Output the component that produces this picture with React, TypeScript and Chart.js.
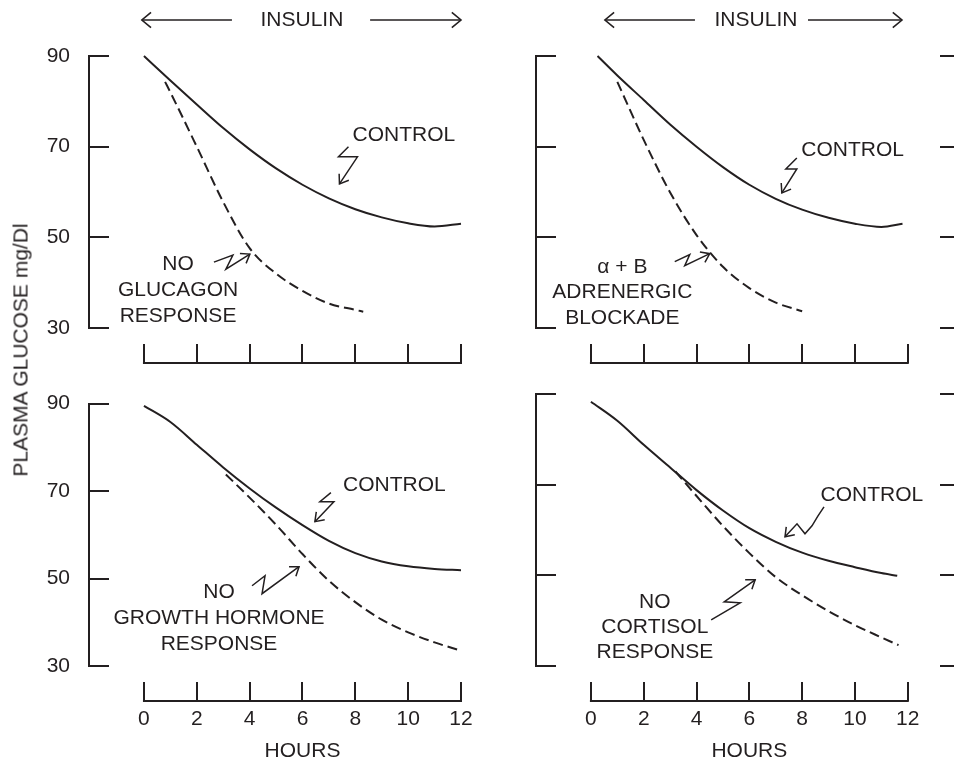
import React, { useEffect, useRef } from 'react';
import { Chart, registerables } from 'chart.js';

Chart.register(...registerables);

const FONT_FAMILY = '"Liberation Sans", Arial, Helvetica, sans-serif';
const FONT_SIZE = 21;
const INK = '#231f20';

// ---- axis ticks ----
const HOUR_TICKS = [0, 2, 4, 6, 8, 10, 12];
const GLUCOSE_TICKS = [30, 50, 70, 90];

// ---- texts ----
const Y_TITLE = 'PLASMA GLUCOSE mg/Dl';
const X_TITLE = 'HOURS';
const HEADER_TEXT = 'INSULIN';
const CONTROL_TEXT = 'CONTROL';

// ---- panel A: glucagon ----
const glucagonControlHours = [0, 1, 2, 3, 4, 5, 6, 7, 8, 9, 10, 11, 12];
const glucagonControlValues = [90, 84.6, 79.3, 74.1, 69.4, 65.2, 61.6, 58.6, 56.2, 54.4, 53.1, 52.4, 53.0];
const noGlucagonHours = [0.8, 1, 2, 3, 4, 5, 6, 7, 8, 8.3];
const noGlucagonValues = [84.3, 82.0, 70.0, 57.8, 47.6, 42.0, 38.2, 35.4, 34.0, 33.6];

// ---- panel B: adrenergic blockade ----
const adrenergicControlHours = [0.25, 1, 2, 3, 4, 5, 6, 7, 8, 9, 10, 11, 11.8];
const adrenergicControlValues = [90, 85.7, 80.3, 74.9, 70.0, 65.5, 61.6, 58.5, 56.1, 54.3, 53.0, 52.3, 53.0];
const blockadeHours = [1, 2, 3, 4, 5, 6, 7, 8];
const blockadeValues = [84.3, 71.5, 59.9, 50.5, 43.5, 38.8, 35.6, 33.7];

// ---- panel C: growth hormone ----
const growthControlHours = [0, 1, 2, 3, 4, 5, 6, 7, 8, 9, 10, 11, 12];
const growthControlValues = [89.5, 85.8, 80.6, 75.4, 70.6, 66.2, 62.2, 58.6, 55.8, 53.9, 52.8, 52.2, 51.9];
const noGrowthHours = [3.1, 4, 5, 6, 7, 8, 9, 10, 11, 12];
const noGrowthValues = [73.8, 68.5, 62.3, 55.6, 49.5, 44.6, 40.6, 37.7, 35.4, 33.5];

// ---- panel D: cortisol ----
const cortisolControlHours = [0, 1, 2, 3, 4, 5, 6, 7, 8, 9, 10, 11, 11.6];
const cortisolControlValues = [88.3, 84.1, 78.8, 73.8, 68.8, 64.3, 60.4, 57.4, 55.0, 53.2, 51.8, 50.5, 49.9];
const noCortisolHours = [3.2, 4, 5, 6, 7, 8, 9, 10, 11, 11.65];
const noCortisolValues = [72.9, 67.5, 60.9, 54.9, 49.6, 45.6, 42.1, 39.0, 36.3, 34.6];

type Pt = [number, number];
interface Note { t: number; v: number; lines: string[]; gap: number }
interface Bolt { t: number; v: number; path: Pt[] }
interface Header { left: [number, number]; center: number; right: [number, number] }
interface PanelDef {
  key: string;
  box: { left: number; top: number; width: number; height: number };
  area: { left: number; top: number; right: number; bottom: number };
  xMin: number;
  xMax: number;
  yLabels: boolean;
  xLabels: boolean;
  rightTicks: boolean;
  control: { hours: number[]; values: number[] };
  test: { hours: number[]; values: number[] };
  header?: Header;
  notes: Note[];
  bolts: Bolt[];
}

const PANELS: PanelDef[] = [
  {
    key: 'glucagon',
    box: { left: 0, top: 0, width: 477, height: 380 },
    area: { left: 89, top: 56, right: 461, bottom: 328 },
    xMin: -2.08, xMax: 12,
    yLabels: true, xLabels: false, rightTicks: false,
    control: { hours: glucagonControlHours, values: glucagonControlValues },
    test: { hours: noGlucagonHours, values: noGlucagonValues },
    header: { left: [-0.08, 3.33], center: 5.98, right: [8.56, 12.0] },
    notes: [
      { t: 9.84, v: 72.6, lines: [CONTROL_TEXT], gap: 26 },
      { t: 1.29, v: 44.1, lines: ['NO', 'GLUCAGON', 'RESPONSE'], gap: 26 },
    ],
    bolts: [
      { t: 7.4, v: 61.8, path: [[9, -37], [-1, -27], [18, -27]] },
      { t: 4.01, v: 46.3, path: [[-36, 8], [-17, 1], [-24, 15]] },
    ],
  },
  {
    key: 'adrenergic',
    box: { left: 477, top: 0, width: 477, height: 380 },
    area: { left: 59, top: 56, right: 463, bottom: 328 },
    xMin: -2.08, xMax: 13.22,
    yLabels: false, xLabels: false, rightTicks: true,
    control: { hours: adrenergicControlHours, values: adrenergicControlValues },
    test: { hours: blockadeHours, values: blockadeValues },
    header: { left: [0.53, 3.94], center: 6.25, right: [8.22, 11.78] },
    notes: [
      { t: 9.91, v: 69.3, lines: [CONTROL_TEXT], gap: 26 },
      { t: 1.19, v: 43.5, lines: ['\u03b1 + B', 'ADRENERGIC', 'BLOCKADE'], gap: 25.5 },
    ],
    bolts: [
      { t: 7.23, v: 59.8, path: [[15, -35], [4, -24], [15, -24]] },
      { t: 4.5, v: 46.4, path: [[-35, 8], [-20, 1], [-25, 12]] },
    ],
  },
  {
    key: 'growth',
    box: { left: 0, top: 380, width: 477, height: 381 },
    area: { left: 89, top: 14, right: 461, bottom: 286 },
    xMin: -2.08, xMax: 12,
    yLabels: true, xLabels: true, rightTicks: false,
    control: { hours: growthControlHours, values: growthControlValues },
    test: { hours: noGrowthHours, values: noGrowthValues },
    notes: [
      { t: 9.48, v: 71.25, lines: [CONTROL_TEXT], gap: 26 },
      { t: 2.84, v: 46.8, lines: ['NO', 'GROWTH HORMONE', 'RESPONSE'], gap: 26 },
    ],
    bolts: [
      { t: 6.47, v: 63.0, path: [[16, -29], [5, -20], [19, -20]] },
      { t: 5.87, v: 52.7, path: [[-47, 19], [-34, 9], [-37, 27]] },
    ],
  },
  {
    key: 'cortisol',
    box: { left: 477, top: 380, width: 477, height: 381 },
    area: { left: 59, top: 14, right: 463, bottom: 286 },
    xMin: -2.08, xMax: 13.22,
    yLabels: false, xLabels: true, rightTicks: true,
    control: { hours: cortisolControlHours, values: cortisolControlValues },
    test: { hours: noCortisolHours, values: noCortisolValues },
    notes: [
      { t: 10.64, v: 67.6, lines: [CONTROL_TEXT], gap: 26 },
      { t: 2.42, v: 44.1, lines: ['NO', 'CORTISOL', 'RESPONSE'], gap: 25 },
    ],
    bolts: [
      { t: 7.35, v: 58.5, path: [[39, -30], [33, -21], [27, -11], [20, -3], [12, -13]] },
      { t: 6.22, v: 49.0, path: [[-44, 40], [-15, 23], [-31, 22]] },
    ],
  },
];

function makeDecor(def: PanelDef) {
  return {
    id: 'panelDecor_' + def.key,
    afterDraw(chart: any) {
      const ctx: CanvasRenderingContext2D = chart.ctx;
      const a = chart.chartArea;
      const xs = chart.scales.x;
      const ys = chart.scales.y;
      const X = (t: number) => xs.getPixelForValue(t);
      const Y = (v: number) => ys.getPixelForValue(v);
      ctx.save();
      ctx.strokeStyle = INK;
      ctx.fillStyle = INK;
      ctx.lineCap = 'butt';
      ctx.lineJoin = 'miter';
      const seg = (x1: number, y1: number, x2: number, y2: number, w: number) => {
        ctx.lineWidth = w;
        ctx.beginPath();
        ctx.moveTo(x1, y1);
        ctx.lineTo(x2, y2);
        ctx.stroke();
      };
      const head = (tx: number, ty: number, fx: number, fy: number, len: number, ang: number, w: number) => {
        const base = Math.atan2(fy - ty, fx - tx);
        ctx.lineWidth = w;
        ctx.beginPath();
        ctx.moveTo(tx + len * Math.cos(base + ang), ty + len * Math.sin(base + ang));
        ctx.lineTo(tx, ty);
        ctx.lineTo(tx + len * Math.cos(base - ang), ty + len * Math.sin(base - ang));
        ctx.stroke();
      };

      // inward ticks on the glucose axis
      for (const v of GLUCOSE_TICKS) {
        const y = Math.round(Y(v));
        seg(a.left, y, a.left + 20, y, 2);
      }

      // detached hours axis with upward ticks
      const axisY = Math.round(a.bottom + 35);
      const h0 = X(HOUR_TICKS[0]);
      const h1 = X(HOUR_TICKS[HOUR_TICKS.length - 1]);
      seg(h0 - 1, axisY, h1 + 1, axisY, 2);
      for (const h of HOUR_TICKS) {
        const x = Math.round(X(h));
        seg(x, axisY, x, axisY - 19, 2);
      }

      ctx.font = `${FONT_SIZE}px ${FONT_FAMILY}`;
      ctx.textAlign = 'center';
      ctx.textBaseline = 'middle';

      if (def.xLabels) {
        ctx.fillText(X_TITLE, (h0 + h1) / 2, a.bottom + 85);
      }

      if (def.header) {
        const hy = a.top - 36;
        const hd = def.header;
        ctx.fillText(HEADER_TEXT, X(hd.center), hy);
        const l1 = X(hd.left[0]);
        const l2 = X(hd.left[1]);
        seg(l1, hy, l2, hy, 1.6);
        head(l1, hy, l2, hy, 12, 0.7, 1.6);
        const r1 = X(hd.right[0]);
        const r2 = X(hd.right[1]);
        seg(r1, hy, r2, hy, 1.6);
        head(r2, hy, r1, hy, 12, 0.7, 1.6);
      }

      for (const n of def.notes) {
        const cx = X(n.t);
        const cy = Y(n.v);
        n.lines.forEach((line, i) => ctx.fillText(line, cx, cy + i * n.gap));
      }

      for (const b of def.bolts) {
        const tx = X(b.t);
        const ty = Y(b.v);
        const pts: Pt[] = b.path.map(([dx, dy]) => [tx + dx, ty + dy] as Pt);
        pts.push([tx, ty]);
        ctx.lineWidth = 1.5;
        ctx.beginPath();
        ctx.moveTo(pts[0][0], pts[0][1]);
        for (let i = 1; i < pts.length; i++) ctx.lineTo(pts[i][0], pts[i][1]);
        ctx.stroke();
        const prev = pts[pts.length - 2];
        head(tx, ty, prev[0], prev[1], 10, 0.62, 1.5);
      }

      ctx.restore();
    },
  };
}

function toPoints(hours: number[], values: number[]) {
  return hours.map((h, i) => ({ x: h, y: values[i] }));
}

function Panel({ def }: { def: PanelDef }) {
  const ref = useRef<HTMLCanvasElement>(null);
  useEffect(() => {
    if (!ref.current) return;
    const font = { family: FONT_FAMILY, size: FONT_SIZE };
    const rightW = def.box.width - def.area.right;
    const scales: any = {
      x: {
        type: 'linear',
        position: 'bottom',
        min: def.xMin,
        max: def.xMax,
        afterBuildTicks: (s: any) => {
          s.ticks = HOUR_TICKS.map((v) => ({ value: v }));
        },
        afterFit: (s: any) => {
          s.height = def.box.height - def.area.bottom;
        },
        grid: { display: true, drawOnChartArea: false, drawTicks: true, tickLength: 40, color: 'rgba(0,0,0,0)' },
        border: { display: false },
        ticks: { display: def.xLabels, padding: 1, font, color: INK, maxRotation: 0, autoSkip: false },
      },
      y: {
        type: 'linear',
        position: 'left',
        min: 30,
        max: 90,
        afterBuildTicks: (s: any) => {
          s.ticks = GLUCOSE_TICKS.map((v) => ({ value: v }));
        },
        afterFit: (s: any) => {
          s.width = def.area.left;
        },
        grid: { display: false },
        border: { display: true, color: INK, width: 2 },
        ticks: { display: def.yLabels, padding: 11, font, color: INK },
      },
    };
    if (def.rightTicks) {
      scales.yr = {
        type: 'linear',
        position: 'right',
        min: 30,
        max: 90,
        afterBuildTicks: (s: any) => {
          s.ticks = GLUCOSE_TICKS.map((v) => ({ value: v }));
        },
        afterFit: (s: any) => {
          s.width = rightW;
        },
        grid: { display: true, drawOnChartArea: false, drawTicks: true, tickLength: rightW, color: INK, lineWidth: 2 },
        border: { display: false },
        ticks: { display: false },
      };
    }
    const chart = new Chart(ref.current, {
      type: 'line',
      data: {
        datasets: [
          {
            data: toPoints(def.control.hours, def.control.values),
            borderColor: INK,
            borderWidth: 2,
            pointRadius: 0,
            fill: false,
            cubicInterpolationMode: 'monotone',
            clip: false,
          },
          {
            data: toPoints(def.test.hours, def.test.values),
            borderColor: INK,
            borderWidth: 2,
            borderDash: [10, 5],
            pointRadius: 0,
            fill: false,
            cubicInterpolationMode: 'monotone',
            clip: false,
          },
        ],
      },
      options: {
        animation: false,
        responsive: false,
        devicePixelRatio: 1,
        events: [],
        layout: {
          padding: {
            left: 0,
            top: def.area.top,
            right: def.rightTicks ? 0 : rightW,
            bottom: 0,
          },
        },
        plugins: { legend: { display: false }, tooltip: { enabled: false } },
        scales,
      } as any,
      plugins: [makeDecor(def)],
    } as any);
    return () => chart.destroy();
  }, [def]);
  return (
    <canvas
      ref={ref}
      width={def.box.width}
      height={def.box.height}
      style={{
        position: 'absolute',
        left: def.box.left,
        top: def.box.top,
        width: def.box.width,
        height: def.box.height,
      }}
    />
  );
}

export default function App() {
  return (
    <div
      style={{
        position: 'fixed',
        left: 0,
        top: 0,
        width: 954,
        height: 761,
        background: '#ffffff',
        overflow: 'hidden',
      }}
    >
      {PANELS.map((p) => (
        <Panel key={p.key} def={p} />
      ))}
      <div
        style={{
          position: 'absolute',
          left: 20,
          top: 350,
          transform: 'translate(-50%, -50%) rotate(-90deg)',
          font: `${FONT_SIZE}px ${FONT_FAMILY}`,
          lineHeight: 1,
          color: INK,
          whiteSpace: 'nowrap',
        }}
      >
        {Y_TITLE}
      </div>
    </div>
  );
}
